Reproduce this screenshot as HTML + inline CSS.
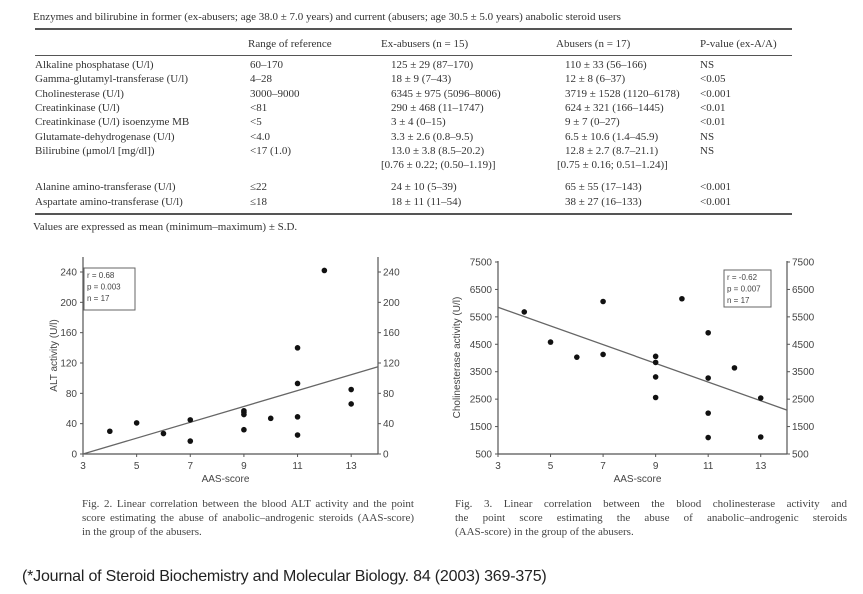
<!DOCTYPE html>
<html><head><meta charset="utf-8">
<style>
body{margin:0;background:#fff;width:863px;height:594px;position:relative;overflow:hidden;font-family:"Liberation Serif",serif;color:#333}
.t{position:absolute;font-size:11px;white-space:nowrap;line-height:12px}
.rule{position:absolute;left:35px;width:757px;background:#555}
svg text{font-family:"Liberation Sans",sans-serif;fill:#444}
.cap{position:absolute;font-size:11px;line-height:14px;color:#444}
.cap div{text-align:justify;text-align-last:justify;white-space:nowrap;height:14px}
.cap div.last{text-align-last:left}
</style></head><body>
<div class="t" style="left:33px;top:11px">Enzymes and bilirubine in former (ex-abusers; age 38.0 ± 7.0 years) and current (abusers; age 30.5 ± 5.0 years) anabolic steroid users</div>
<div class="rule" style="top:28px;height:2px"></div>
<div id="tbl"></div>
<div class="rule" style="top:55px;height:1px"></div>
<div class="rule" style="top:213px;height:2px"></div>
<div class="t" style="left:33px;top:221px">Values are expressed as mean (minimum–maximum) ± S.D.</div>

<svg id="c1" width="863" height="594" style="position:absolute;left:0;top:0"></svg>

<div class="cap" style="left:82px;top:497px;width:332px"><div>Fig. 2. Linear correlation between the blood ALT activity and the point</div><div>score estimating the abuse of anabolic–androgenic steroids (AAS-score)</div><div class="last">in the group of the abusers.</div></div>
<div class="cap" style="left:455px;top:497px;width:392px"><div>Fig. 3. Linear correlation between the blood cholinesterase activity and</div><div>the point score estimating the abuse of anabolic–androgenic steroids</div><div class="last">(AAS-score) in the group of the abusers.</div></div>
<div style="position:absolute;left:22px;top:568px;font-family:'Liberation Sans',sans-serif;font-size:16px;color:#222;letter-spacing:-0.2px">(*Journal of Steroid Biochemistry and Molecular Biology. 84 (2003) 369-375)</div>

<script>
const rowLabels=["Alkaline phosphatase (U/l)","Gamma-glutamyl-transferase (U/l)","Cholinesterase (U/l)","Creatinkinase (U/l)","Creatinkinase (U/l) isoenzyme MB","Glutamate-dehydrogenase (U/l)","Bilirubine (μmol/l [mg/dl])","","Alanine amino-transferase (U/l)","Aspartate amino-transferase (U/l)"];
const rowRange=["60–170","4–28","3000–9000","<81","<5","<4.0","<17 (1.0)","","≤22","≤18"];
const rowEx=["125 ± 29 (87–170)","18 ± 9 (7–43)","6345 ± 975 (5096–8006)","290 ± 468 (11–1747)","3 ± 4 (0–15)","3.3 ± 2.6 (0.8–9.5)","13.0 ± 3.8 (8.5–20.2)","[0.76 ± 0.22; (0.50–1.19)]","24 ± 10 (5–39)","18 ± 11 (11–54)"];
const rowAb=["110 ± 33 (56–166)","12 ± 8 (6–37)","3719 ± 1528 (1120–6178)","624 ± 321 (166–1445)","9 ± 7 (0–27)","6.5 ± 10.6 (1.4–45.9)","12.8 ± 2.7 (8.7–21.1)","[0.75 ± 0.16; 0.51–1.24)]","65 ± 55 (17–143)","38 ± 27 (16–133)"];
const rowP=["NS","<0.05","<0.001","<0.01","<0.01","NS","NS","","<0.001","<0.001"];
const rowY=[59,73,88,102,116,131,145,159,181,196];
const tbl=document.getElementById('tbl');
function cell(x,y,txt,name){const d=document.createElement('div');d.className='t';d.style.left=x+'px';d.style.top=y+'px';d.textContent=txt;


tbl.appendChild(d);}
cell(248,38,"Range of reference","header-range");
cell(381,38,"Ex-abusers (n = 15)","header-ex-abusers");
cell(556,38,"Abusers (n = 17)","header-abusers");
cell(700,38,"P-value (ex-A/A)","header-p-value");
rowLabels.forEach((l,i)=>{const y=rowY[i];
if(l)cell(35,y,l,'row-label');
if(rowRange[i])cell(250,y,rowRange[i],'row-range');
cell(i==7?381:391,y,rowEx[i],'row-ex-abusers');
cell(i==7?557:565,y,rowAb[i],'row-abusers');
if(rowP[i])cell(700,y,rowP[i],'row-p-value');});

const altX=[4,5,6,7,7,9,9,9,9,10,11,11,11,11,12,13,13];
const altY=[30,41,27,45,17,57,55,52,32,47,140,93,49,25,242,85,66];
const altTicksY=[0,40,80,120,160,200,240];
const altFit=[[3,0],[14,115]];
const cheX=[4,5,6,7,7,9,9,9,9,10,11,11,11,11,12,13,13];
const cheY=[5680,4580,4030,6060,4130,4060,3840,3310,2560,6160,4920,3270,1990,1100,3640,2540,1120];
const cheTicksY=[500,1500,2500,3500,4500,5500,6500,7500];
const cheFit=[[3,5850],[14,2100]];
const ticksX=[3,5,7,9,11,13];

const svg=document.getElementById('c1');const NS='http://www.w3.org/2000/svg';
function el(t,a,name){const e=document.createElementNS(NS,t);for(const k in a)e.setAttribute(k,a[k]);


svg.appendChild(e);return e;}
function chart(o){
 const sx=v=>o.x0+(v-3)/(14-3)*(o.x1-o.x0);
 const sy=v=>o.y0-(v-o.ymin)/(o.ymax-o.ymin)*(o.y0-o.y1);
 const top=o.top;
 el('line',{x1:o.x0,y1:o.y0,x2:o.x1,y2:o.y0,stroke:'#555','stroke-width':1.2},'x-axis');
 el('line',{x1:o.x0,y1:o.y0,x2:o.x0,y2:top,stroke:'#555','stroke-width':1.2},'y-axis-left');
 el('line',{x1:o.x1,y1:o.y0,x2:o.x1,y2:top,stroke:'#555','stroke-width':1.2},'y-axis-right');
 o.ty.forEach(v=>{const y=sy(v);
  el('line',{x1:o.x0-3,y1:y,x2:o.x0,y2:y,stroke:'#555'},'y-tick-left');
  el('line',{x1:o.x1,y1:y,x2:o.x1+3,y2:y,stroke:'#555'},'y-tick-right');
  const a=el('text',{x:o.x0-6,y:y+3.5,'font-size':10,'text-anchor':'end'},'y-tick-label-left');a.textContent=v;
  const b=el('text',{x:o.x1+5,y:y+3.5,'font-size':10},'y-tick-label-right');b.textContent=v;});
 ticksX.forEach(v=>{const x=sx(v);
  el('line',{x1:x,y1:o.y0,x2:x,y2:o.y0+3,stroke:'#555'},'x-tick');
  const t=el('text',{x:x,y:o.y0+15,'font-size':10,'text-anchor':'middle'},'x-tick-label');t.textContent=v;});
 const xt=el('text',{x:(o.x0+o.x1)/2-5,y:o.y0+28,'font-size':10,'text-anchor':'middle'},'x-axis-title');xt.textContent='AAS-score';
 const yt=el('text',{x:0,y:0,'font-size':10,'text-anchor':'middle',transform:`translate(${o.x0-o.ylabOff},${(o.y0+top)/2+o.ylabDy}) rotate(-90)`},'y-axis-title');yt.textContent=o.ylab;
 el('line',{x1:sx(o.fit[0][0]),y1:sy(o.fit[0][1]),x2:sx(o.fit[1][0]),y2:sy(o.fit[1][1]),stroke:'#666','stroke-width':1.3},'regression-line');
 o.xs.forEach((v,i)=>el('circle',{cx:sx(v),cy:sy(o.ys[i]),r:2.8,fill:'#111'},'data-point'));
 el('rect',{x:o.lx,y:o.ly,width:o.lw,height:o.lh,fill:'#fff',stroke:'#666'},'stats-box');
 o.lt.forEach((s,i)=>{const t=el('text',{x:o.lx+3,y:o.ly+10+i*11.5,'font-size':8},'stats-text');t.textContent=s;});
}
chart({x0:83,x1:378,y0:454,y1:272,ymin:0,ymax:240,top:257,ty:altTicksY,xs:altX,ys:altY,fit:altFit,ylab:'ALT activity (U/l)',ylabOff:26,ylabDy:0,lx:84,ly:268,lw:51,lh:42,lt:['r = 0.68','p = 0.003','n = 17']});
chart({x0:498,x1:787,y0:454,y1:262,ymin:500,ymax:7500,top:261,ty:cheTicksY,xs:cheX,ys:cheY,fit:cheFit,ylab:'Cholinesterase activity (U/l)',ylabOff:38,ylabDy:0,lx:724,ly:270,lw:47,lh:37,lt:['r = -0.62','p = 0.007','n = 17']});
</script>
</body></html>
